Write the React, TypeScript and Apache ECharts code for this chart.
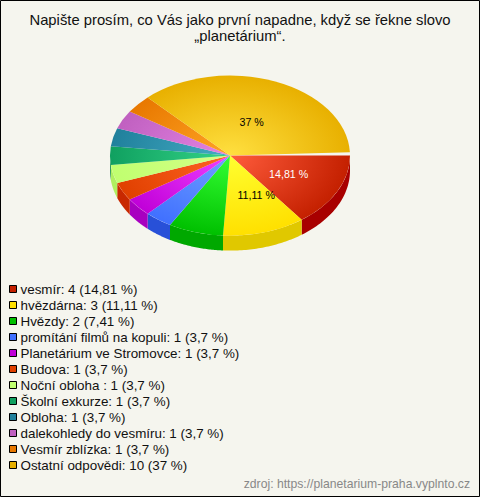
import React, { useEffect, useRef } from "react";
import * as echarts from "echarts";

const TITLE = "Napište prosím, co Vás jako první napadne, když se řekne slovo\n„planetárium“.";
const SOURCE = "zdroj: https://planetarium-praha.vyplnto.cz";
const categories = ["vesmír", "hvězdárna", "Hvězdy", "promítání filmů na kopuli", "Planetárium ve Stromovce", "Budova", "Noční obloha ", "Školní exkurze", "Obloha", "dalekohledy do vesmíru", "Vesmír zblízka", "Ostatní odpovědi"];
const values = [4, 3, 2, 1, 1, 1, 1, 1, 1, 1, 1, 10];
const percents = ["14,81", "11,11", "7,41", "3,7", "3,7", "3,7", "3,7", "3,7", "3,7", "3,7", "3,7", "37"];
const swatchColors = ["#c42000", "#ffe000", "#00c000", "#4070ff", "#c000d8", "#e04000", "#c0ff70", "#10a060", "#20809c", "#c060c0", "#e87800", "#e8b000"];
const innerColors = ["#ff5c3c", "#ffff30", "#34ff34", "#70a0ff", "#f040ff", "#ff6424", "#d4ff88", "#34d488", "#44acc4", "#e484e4", "#ffa424", "#ffe040"];
const sideColors = ["#a80000", "#e0c800", "#00a800", "#2850d8", "#a800c0", "#c82800", "#b0f060", "#0c8848", "#186c88", "#a850a8", "#c86400", "#c89800"];

const CX = 230, CY = 155.6, RX = 120, RY = 80, DEPTH = 15;
const LAST_GAP = 0.042;
const labelStyle: Record<number, { dx: number; dy: number; color: string }> = {
  0: { dx: 5, dy: 0, color: "#ffffff" },
  1: { dx: 9, dy: 1, color: "#000000" },
  11: { dx: -1, dy: 3, color: "#000000" },
};

const total = values.reduce((a, b) => a + b, 0);

function sliceElements(i: number) {
  const before = values.slice(0, i).reduce((a, b) => a + b, 0);
  const start = (before / total) * Math.PI * 2;
  let end = ((before + values[i]) / total) * Math.PI * 2;
  if (i === values.length - 1) end -= LAST_GAP;
  const children: any[] = [];

  const sideEnd = Math.min(end, Math.PI);
  if (start < Math.PI) {
    const pts: number[][] = [];
    const steps = 40;
    for (let s = 0; s <= steps; s++) {
      const a = start + ((sideEnd - start) * s) / steps;
      pts.push([CX + RX * Math.cos(a), CY + RY * Math.sin(a)]);
    }
    for (let s = steps; s >= 0; s--) {
      const a = start + ((sideEnd - start) * s) / steps;
      pts.push([CX + RX * Math.cos(a), CY + DEPTH + RY * Math.sin(a)]);
    }
    children.push({ type: "polygon", z2: 1, shape: { points: pts }, style: { fill: sideColors[i] } });
  }

  children.push({
    type: "sector",
    z2: 2,
    x: CX,
    y: CY,
    scaleY: RY / RX,
    shape: { cx: 0, cy: 0, r0: 0, r: RX, startAngle: start, endAngle: end, clockwise: true },
    style: {
      fill: {
        type: "radial",
        x: 0,
        y: 0,
        r: RX,
        global: true,
        colorStops: [
          { offset: 0, color: innerColors[i] },
          { offset: 1, color: swatchColors[i] },
        ],
      },
    },
  });

  const lab = labelStyle[i];
  if (lab) {
    const mid = (start + end) / 2;
    children.push({
      type: "text",
      z2: 3,
      x: CX + 0.5 * RX * Math.cos(mid) + lab.dx,
      y: CY + 0.5 * RY * Math.sin(mid) + lab.dy,
      style: {
        text: `${percents[i]} %`,
        fill: lab.color,
        font: '10.67px "Liberation Sans"',
        align: "center",
        verticalAlign: "middle",
      },
    });
  }
  return { type: "group", children };
}

export default function App() {
  const ref = useRef<HTMLDivElement>(null);
  useEffect(() => {
    const chart = echarts.init(ref.current!, undefined, { renderer: "svg" });
    chart.setOption({
      animation: false,
      backgroundColor: "#f5f5ee",
      title: {
        text: TITLE,
        left: "center",
        top: 7,
        textStyle: { fontFamily: "Liberation Sans", fontSize: 14.8, fontWeight: "normal", color: "#111111", lineHeight: 16 },
      },
      legend: {
        orient: "vertical",
        left: 9,
        top: 282.5,
        padding: 0,
        itemWidth: 7,
        itemHeight: 7,
        itemGap: 3,
        icon: "rect",
        selectedMode: false,
        data: categories,
        itemStyle: { borderColor: "#000000", borderWidth: 1, borderRadius: 0 },
        formatter: (name: string) => {
          const i = categories.indexOf(name);
          return `${name}: ${values[i]} (${percents[i]} %)`;
        },
        textStyle: { fontFamily: "Liberation Sans", fontSize: 13.4, color: "#111111", lineHeight: 13, padding: [0, 0, 0, -1] },
      },
      graphic: [
        { type: "rect", silent: true, z: -1, shape: { x: 0.5, y: 0.5, width: 479, height: 496 }, style: { fill: "none", stroke: "#000000", lineWidth: 1 } },
        { type: "text", silent: true, x: 470, y: 484, style: { text: SOURCE, fill: "#888888", font: '12.2px "Liberation Sans"', align: "right", verticalAlign: "middle" } },
      ],
      series: categories.map((name, i) => ({
        type: "custom",
        name,
        coordinateSystem: "none",
        silent: true,
        clip: false,
        itemStyle: { color: swatchColors[i] },
        data: [[values[i]]],
        renderItem: () => sliceElements(i),
      })),
    });
    return () => chart.dispose();
  }, []);
  return <div ref={ref} style={{ position: "absolute", left: 0, top: 0, width: 480, height: 497 }} />;
}
